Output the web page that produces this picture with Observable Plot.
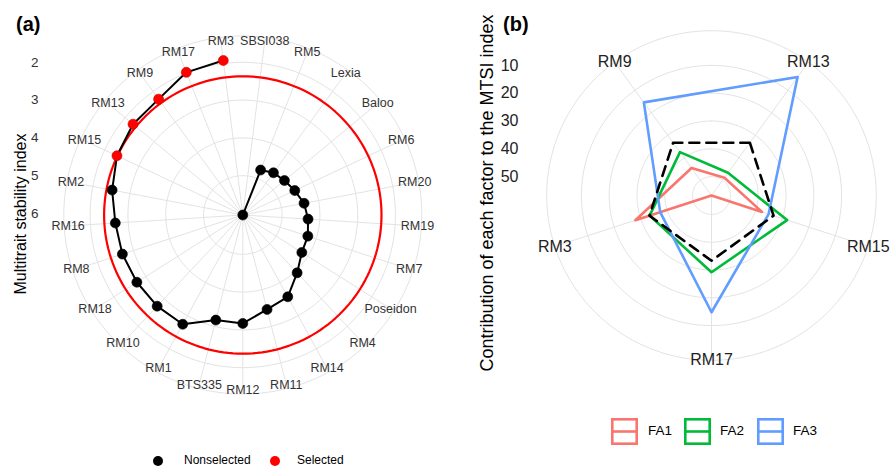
<!DOCTYPE html>
<html><head><meta charset="utf-8">
<script src="https://cdn.jsdelivr.net/npm/d3@7"></script>
<script src="https://cdn.jsdelivr.net/npm/@observablehq/plot@0.6"></script>
<style>
body{margin:0;background:#fff;}
#root{position:relative;width:890px;height:466px;overflow:hidden;font-family:"Liberation Sans",Arial,sans-serif;color:#000;background:#fff;}
#root svg{position:absolute;top:0;}
.tag{position:absolute;font-weight:bold;font-size:20px;line-height:20px;}
.ytitle{position:absolute;white-space:nowrap;transform-origin:center center;transform:translate(-50%,-50%) rotate(-90deg);line-height:1;}
.leg{position:absolute;white-space:nowrap;line-height:1;color:#000;}
</style></head>
<body><div id="root"></div>
<script>
// ---------------- Panel (a): MTSI per genotype (clockwise from top) ----------------
const genotypes = ["SBSI038","RM5","Lexia","Baloo","RM6","RM20","RM19","RM7","Poseidon","RM4","RM14","RM11","RM12","BTS335","RM1","RM10","RM18","RM8","RM16","RM2","RM15","RM13","RM9","RM17","RM3"];
const mtsi = [6.04,4.76,4.66,4.61,4.52,4.39,4.31,4.23,4.19,3.94,3.57,3.46,3.17,3.17,2.74,2.73,2.72,2.69,2.66,2.52,2.36,2.27,2.25,1.98,1.92];
const selectedGenotypes = ["RM15","RM13","RM9","RM17","RM3"];
const mtsiCutoff = 2.37;
const mtsiTicks = [2,3,4,5,6];
const mtsiLegend = ["Nonselected","Selected"];
const mtsiLegendColors = ["black","red"];

// ---------------- Panel (b): contribution of each factor ----------------
const factorGenotypes = ["RM13","RM15","RM17","RM3","RM9"];
const fa1 = [48.9,37.7,56.8,28.0,44.6];
const fa2 = [46.7,28.2,29.2,33.4,37.5];
const fa3 = [4.1,35.2,14.8,37.4,15.4];
const equalContribution = 33.33;
const contribTicks = [10,20,30,40,50];
const factorNames = ["FA1","FA2","FA3"];
const factorColors = ["#F8766D","#00BA38","#619CFF"];

const root = document.getElementById("root");
const FONT = "Liberation Sans, Arial, sans-serif";
const GRID = "#e3e3e3";
const sinP = (r, t) => r * Math.sin(t);
const cosP = (r, t) => r * Math.cos(t);
const angles = d3.range(0, 361, 2).map(a => a * Math.PI / 180);

// ---------- Panel (a) ----------
{
  const W = 450, H = 466, cx = 242.3, cy = 214.5;
  const rA = d3.scaleLinear().domain([6.04, 1.92]).range([0, 155.7]);
  const outer = 179, labelR = 175;
  const n = genotypes.length;
  const rows = genotypes.map((g, i) => ({g, v: mtsi[i], t: (i + 0.5) * 2 * Math.PI / n, sel: selectedGenotypes.includes(g)}));
  const rings = [...mtsiTicks.map(v => ({key: v, r: rA(v)})), {key: "outer", r: outer}]
    .flatMap(c => angles.map(t => ({key: c.key, r: c.r, t})));
  const cut = angles.map(t => ({r: rA(mtsiCutoff), t}));
  const svg = Plot.plot({
    width: W, height: H, margin: 0,
    style: {fontFamily: FONT, background: "transparent"},
    x: {domain: [-cx, W - cx], range: [0, W], axis: null},
    y: {domain: [cy - H, cy], range: [H, 0], axis: null},
    color: {type: "identity"},
    marks: [
      Plot.line(rings, {x: d => sinP(d.r, d.t), y: d => cosP(d.r, d.t), z: "key", stroke: GRID, strokeWidth: 1}),
      Plot.link(rows, {x1: 0, y1: 0, x2: d => sinP(outer, d.t), y2: d => cosP(outer, d.t), stroke: GRID, strokeWidth: 1}),
      Plot.line(cut, {x: d => sinP(d.r, d.t), y: d => cosP(d.r, d.t), stroke: "red", strokeWidth: 2.2}),
      Plot.line(rows, {x: d => sinP(rA(d.v), d.t), y: d => cosP(rA(d.v), d.t), stroke: "black", strokeWidth: 2}),
      Plot.dot(rows, {x: d => sinP(rA(d.v), d.t), y: d => cosP(rA(d.v), d.t), r: 5, fill: d => d.sel ? "red" : "black", stroke: d => d.sel ? "#c00" : "black", strokeWidth: 0.6}),
      Plot.text(rows, {x: d => sinP(labelR, d.t), y: d => cosP(labelR, d.t), text: "g", fontSize: 12.5, fill: "#333", fontFamily: FONT}),
      Plot.text(mtsiTicks, {y: d => rA(d), frameAnchor: "left", dx: 38, textAnchor: "end", text: d => String(d), fontSize: 13.5, fill: "#333", fontFamily: FONT})
    ]
  });
  svg.style.left = "0px";
  root.appendChild(svg);
}

// ---------- Panel (b) ----------
{
  const W = 440, H = 466, cx = 261, cy = 195, left = 450;
  const rB = d3.scaleLinear().domain([56.8, 0]).range([0, 56.8 * 2.78]);
  const outer = 164.8, labelR = 164.8;
  const n = factorGenotypes.length;
  const theta = i => (i + 0.5) * 2 * Math.PI / n;
  const series = [fa1, fa2, fa3];
  const rows = factorNames.flatMap((f, j) => factorGenotypes.map((g, i) => ({f, g, v: series[j][i], t: theta(i), c: factorColors[j]})));
  const eq = factorGenotypes.map((g, i) => ({g, v: equalContribution, t: theta(i)}));
  const rings = [...contribTicks.map(v => ({key: v, r: rB(v)})), {key: "outer", r: outer}]
    .flatMap(c => angles.map(t => ({key: c.key, r: c.r, t})));
  const svg = Plot.plot({
    width: W, height: H, margin: 0,
    style: {fontFamily: FONT, background: "transparent"},
    x: {domain: [-cx, W - cx], range: [0, W], axis: null},
    y: {domain: [cy - H, cy], range: [H, 0], axis: null},
    color: {type: "identity"},
    marks: [
      Plot.line(rings, {x: d => sinP(d.r, d.t), y: d => cosP(d.r, d.t), z: "key", stroke: GRID, strokeWidth: 1}),
      Plot.link(eq, {x1: 0, y1: 0, x2: d => sinP(outer, d.t), y2: d => cosP(outer, d.t), stroke: GRID, strokeWidth: 1}),
      Plot.line(rows, {x: d => sinP(rB(d.v), d.t), y: d => cosP(rB(d.v), d.t), z: "f", stroke: "c", strokeWidth: 2.6, curve: "linear-closed"}),
      Plot.line(eq, {x: d => sinP(rB(d.v), d.t), y: d => cosP(rB(d.v), d.t), stroke: "black", strokeWidth: 2.6, strokeDasharray: "10,7", curve: "linear-closed"}),
      Plot.text(eq, {x: d => sinP(labelR, d.t), y: d => cosP(labelR, d.t), text: "g", fontSize: 16, fill: "#222", fontFamily: FONT}),
      Plot.text(contribTicks, {y: d => rB(d), frameAnchor: "left", dx: 68, textAnchor: "end", text: d => String(d), fontSize: 16, fill: "#222", fontFamily: FONT})
    ]
  });
  svg.style.left = left + "px";
  root.appendChild(svg);
}

// ---------- Titles, tags and legends (HTML) ----------
function addDiv(cls, html, css) {
  const d = document.createElement("div");
  d.className = cls; d.innerHTML = html; Object.assign(d.style, css); root.appendChild(d); return d;
}
addDiv("tag", "(a)", {left: "16px", top: "14px"});
addDiv("tag", "(b)", {left: "503px", top: "14px"});
addDiv("ytitle", "Multitrait stability index", {left: "21px", top: "214px", fontSize: "16px"});
addDiv("ytitle", "Contribution of each factor to the MTSI index", {left: "487px", top: "193px", fontSize: "18px"});

// legend (a)
const legAx = [158, 275], legAtext = [184, 297];
mtsiLegend.forEach((lab, i) => {
  addDiv("leg", `<svg width="12" height="12" style="position:static;display:block"><circle cx="6" cy="6" r="5" fill="${mtsiLegendColors[i]}"/></svg>`, {left: (legAx[i] - 6) + "px", top: "455px"});
  addDiv("leg", lab, {left: legAtext[i] + "px", top: "454px", fontSize: "12px"});
});
// legend (b)
const legBx = [611, 683.5, 756.5], legBtext = [648, 720, 793];
factorNames.forEach((f, i) => {
  addDiv("leg", `<svg width="27" height="27" style="position:static;display:block"><rect x="1.3" y="1.3" width="24.4" height="24.4" fill="none" stroke="${factorColors[i]}" stroke-width="2.6"/><line x1="1.3" x2="25.7" y1="13.5" y2="13.5" stroke="${factorColors[i]}" stroke-width="2.6"/></svg>`, {left: legBx[i] + "px", top: "418px"});
  addDiv("leg", f, {left: legBtext[i] + "px", top: "424px", fontSize: "13.5px"});
});
</script>
</body></html>
